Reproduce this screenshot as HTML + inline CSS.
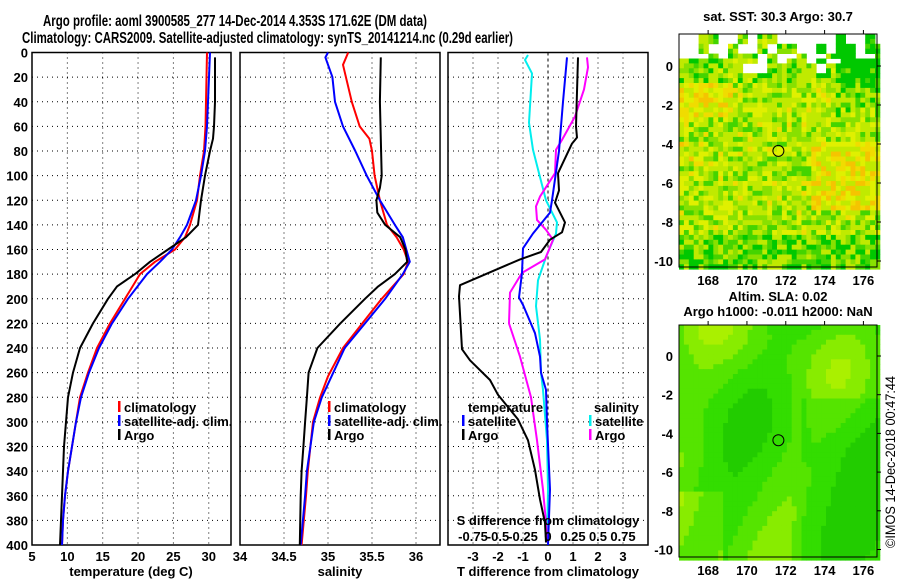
<!DOCTYPE html>
<html><head><meta charset="utf-8"><style>
html,body{margin:0;padding:0;background:#fff;}
svg{display:block;font-family:"Liberation Sans",sans-serif;font-weight:bold;}
</style></head><body>
<svg id="c" width="900" height="580" viewBox="0 0 900 580" xmlns="http://www.w3.org/2000/svg">
<rect width="900" height="580" fill="#fff"/>
<text x="43" y="26" font-size="16" textLength="384" lengthAdjust="spacingAndGlyphs">Argo profile: aoml 3900585_277 14-Dec-2014 4.353S 171.62E (DM data)</text>
<text x="22" y="43" font-size="16" textLength="491" lengthAdjust="spacingAndGlyphs">Climatology: CARS2009. Satellite-adjusted climatology: synTS_20141214.nc (0.29d earlier)</text>
<g id="plots"></g>
<text x="778" y="21" font-size="13" text-anchor="middle">sat. SST: 30.3 Argo: 30.7</text>
<text x="778" y="301" font-size="13" text-anchor="middle">Altim. SLA: 0.02</text>
<text x="778" y="316" font-size="13" text-anchor="middle">Argo h1000: -0.011 h2000: NaN</text>
<text transform="translate(895,462) rotate(-90)" font-size="14" text-anchor="middle" textLength="172" lengthAdjust="spacingAndGlyphs" style="font-weight:normal">©IMOS 14-Dec-2018 00:47:44</text>
</svg>
<script>
// ---- data ----
const depthTicks=[0,20,40,60,80,100,120,140,160,180,200,220,240,260,280,300,320,340,360,380,400];
const tempTicks=[5,10,15,20,25,30];
const salTicks=[34,34.5,35,35.5,36];
const tdiffTicks=[-3,-2,-1,0,1,2,3];
const sdiffTickLabels=["-0.75","-0.5","-0.25","0","0.25","0.5","0.75"];
const sdiffTicks=[-0.75,-0.5,-0.25,0,0.25,0.5,0.75];
const climDepth=[0,20,40,60,80,100,120,140,150,160,170,180,200,220,240,260,280,300,320,340,360,380,400];
const climTemp=[29.75,29.68,29.61,29.54,29.33,28.76,28.34,27.35,26.64,25.23,22.40,20.28,18.15,16.03,14.19,12.92,11.79,11.22,10.66,10.09,9.67,9.38,9.24];
const satTemp=[30.18,30.04,29.90,29.75,29.47,28.90,28.20,26.92,25.93,24.80,23.10,21.27,18.58,16.32,14.48,13.06,11.93,11.22,10.66,10.09,9.67,9.38,9.24];
const argoDepthT=[4,20,40,60,70,80,100,120,140,150,160,170,180,190,200,220,240,260,280,300,320,340,360,380,400];
const argoTemp=[30.88,30.88,30.88,30.74,30.60,30.18,29.47,28.90,28.48,26.78,24.24,21.69,19.57,17.02,15.75,13.63,11.79,10.80,10.09,9.81,9.53,9.38,9.24,9.10,8.96];
const climSDepth=[0,10,40,60,70,80,100,120,140,150,160,170,180,200,220,240,263,280,300,320,340,360,400];
const climSal=[35.23,35.17,35.27,35.36,35.47,35.5,35.53,35.59,35.67,35.78,35.86,35.91,35.86,35.61,35.39,35.17,35.0,34.91,34.83,34.80,34.77,34.75,34.70];
const satSDepth=[0,4,20,40,60,80,100,120,140,150,170,180,200,220,240,260,280,300,320,340,360,400];
const satSal=[35.0,34.97,35.05,35.08,35.17,35.31,35.44,35.59,35.76,35.85,35.93,35.85,35.65,35.42,35.19,35.06,34.93,34.84,34.80,34.76,34.74,34.69];
const argoSDepth=[4,40,100,110,120,130,140,150,160,170,180,190,200,220,240,260,280,300,320,340,360,400];
const argoSal=[35.60,35.59,35.61,35.59,35.55,35.56,35.65,35.82,35.88,35.90,35.76,35.57,35.42,35.14,34.88,34.78,34.76,34.74,34.72,34.70,34.69,34.68];
const satTdDepth=[4,40,80,120,130,147,159,179,199,205,228,247,260,274,300,355,400];
const satTdiff=[0.76,0.6,0.44,0.16,0.08,-0.6,-1.0,-1.04,-1.16,-1.0,-0.52,-0.32,-0.28,-0.08,-0.04,0.08,0];
const argoTdDepth=[4,60,69,74,98,112,122,130,138,146,152,162,168,189,198,241,250,266,278,298,315,339,363,382,398];
const argoTdiff=[1.2,1.12,1.16,0.96,0.4,0.44,0.28,0.48,0.68,0.56,0.08,-0.28,-1.12,-3.52,-3.56,-3.44,-3.12,-2.32,-2.0,-1.2,-0.8,-0.52,-0.32,-0.12,-0.08];
const satSdDepth=[2,6,17,57,79,98,120,138,147,166,185,206,233,260,274,315,355,398];
const satSdiff=[-0.2,-0.23,-0.16,-0.19,-0.15,-0.09,-0.02,0.09,0.08,-0.02,-0.1,-0.12,-0.08,-0.07,-0.05,-0.01,0,-0.01];
const argoSdDepth=[4,12,30,52,71,79,98,117,125,136,144,152,168,179,195,220,247,280,315,355,382,398];
const argoSdiff=[0.39,0.4,0.36,0.27,0.14,0.08,0.07,-0.08,-0.12,-0.11,-0.02,0.05,-0.03,-0.26,-0.38,-0.39,-0.28,-0.17,-0.11,-0.05,-0.02,-0.01];
const mapLonTicks=[168,170,172,174,176];
const mapLatTicks=[0,-2,-4,-6,-8,-10];
const argoLon=171.62, argoLat=-4.353;

// ---- helpers ----
const NS="http://www.w3.org/2000/svg";
const root=document.getElementById('plots');
function mk(tag,attrs,parent){const e=document.createElementNS(NS,tag);for(const k in attrs)e.setAttribute(k,attrs[k]);(parent||root).appendChild(e);return e;}
const Y0=52.5,Y1=545;
const yD=d=>Y0+d*(Y1-Y0)/400;
const xT=t=>32+(t-5)*7.07;
const xS=s=>240+(s-34)*88;
const xTd=t=>548+t*25;
const xSd=s=>548+s*100;
const FS=13;

function gridAndFrame(x0,x1,vx,name){
  const g=mk('g',{});
  
  
  depthTicks.forEach(d=>{if(d>0&&d<400){mk('line',{x1:x0,x2:x1,y1:yD(d),y2:yD(d),stroke:'#000','stroke-width':1,'stroke-dasharray':'1 4'},g);}});
  vx.forEach(x=>{mk('line',{x1:x,x2:x,y1:Y0,y2:Y1,stroke:'#000','stroke-width':1,'stroke-dasharray':'1 4'},g);});
  const f=mk('rect',{x:x0,y:Y0,width:x1-x0,height:Y1-Y0,fill:'none',stroke:'#000','stroke-width':1.5});
  
  
}
function line(xs,ds,fx,color,name){
  const p=xs.map((v,i)=>fx(v).toFixed(1)+','+yD(ds[i]).toFixed(1)).join(' ');
  const e=mk('polyline',{points:p,fill:'none',stroke:color,'stroke-width':2,'stroke-linejoin':'round'});
  
  
}
function txt(x,y,s,opts,name){
  const e=mk('text',Object.assign({x:x,y:y,'font-size':FS},opts||{}));
  e.textContent=s;
  
  
  return e;
}
function legend(x,y,items,name){
  items.forEach((it,i)=>{
    const r=mk('rect',{x:x,y:y+i*14-11,width:2.5,height:11,fill:it[1]});
    
    
    txt(x+6,y+i*14,it[0],{},name+'-entry');
  });
}

// ---- panel 1 temperature ----
gridAndFrame(32,231,tempTicks.filter(t=>t>5).map(xT),'temperature-panel');
depthTicks.forEach(d=>txt(28,yD(d)+5,String(d),{'text-anchor':'end'},'y-tick-label'));
tempTicks.forEach(t=>txt(xT(t),561,String(t),{'text-anchor':'middle'},'temperature-tick-label'));
txt(131,576,'temperature (deg C)',{'text-anchor':'middle'},'temperature-axis-title');
line(climTemp,climDepth,xT,'#f00','temperature-climatology-line');
line(satTemp,climDepth,xT,'#00f','temperature-satellite-line');
line(argoTemp,argoDepthT,xT,'#000','temperature-argo-line');
legend(118,412,[['climatology','#f00'],['satellite-adj. clim.','#00f'],['Argo','#000']],'temperature-legend');

// ---- panel 2 salinity ----
gridAndFrame(240,440,salTicks.filter(s=>s>34).map(xS),'salinity-panel');
salTicks.forEach(s=>txt(xS(s),561,String(s),{'text-anchor':'middle'},'salinity-tick-label'));
txt(340,576,'salinity',{'text-anchor':'middle'},'salinity-axis-title');
line(climSal,climSDepth,xS,'#f00','salinity-climatology-line');
line(satSal,satSDepth,xS,'#00f','salinity-satellite-line');
line(argoSal,argoSDepth,xS,'#000','salinity-argo-line');
legend(328,412,[['climatology','#f00'],['satellite-adj. clim.','#00f'],['Argo','#000']],'salinity-legend');

// ---- panel 3 differences ----
gridAndFrame(448,648,tdiffTicks.filter(t=>t!==0).map(xTd),'difference-panel');
const z=mk('line',{x1:xTd(0),x2:xTd(0),y1:Y0,y2:Y1,stroke:'#000','stroke-width':1,'stroke-dasharray':'3 3'});


line(satSdiff,satSdDepth,xSd,'#0ee','salinity-satellite-diff-line');
line(argoSdiff,argoSdDepth,xSd,'#f0f','salinity-argo-diff-line');
line(satTdiff,satTdDepth,xTd,'#00f','temperature-satellite-diff-line');
line(argoTdiff,argoTdDepth,xTd,'#000','temperature-argo-diff-line');
tdiffTicks.forEach(t=>txt(xTd(t),561,String(t),{'text-anchor':'middle'},'tdiff-tick-label'));
sdiffTicks.forEach((s,i)=>txt(xSd(s),541,sdiffTickLabels[i],{'text-anchor':'middle'},'sdiff-tick-label'));
txt(548,525,'S difference from climatology',{'text-anchor':'middle'},'sdiff-axis-title');
txt(548,576,'T difference from climatology',{'text-anchor':'middle'},'tdiff-axis-title');
txt(468,412,'temperature',{},'diff-legend-temperature-heading');
legend(462,426,[['satellite','#00f'],['Argo','#000']],'diff-legend-temperature');
txt(594,412,'salinity',{},'diff-legend-salinity-heading');
legend(589,426,[['satellite','#0ee'],['Argo','#f0f']],'diff-legend-salinity');

// ---- maps ----
function hash(i,j,s){let h=(i*374761393+j*668265263+s*982451653)|0;h=(h^(h>>>13))*1274126177|0;return ((h^(h>>>16))>>>0)/4294967296;}
function drawMap(top,bot,kind,name){
  const L=679,R=877,lonL=166.5,lonR=176.7;
  const lat0y = kind==='sst'?66:356, pxDeg = kind==='sst'?19.5:19.35;
  const mx=lon=>L+(lon-lonL)*(R-L)/(lonR-lonL);
  const my=lat=>lat0y-lat*pxDeg;
  const g=mk('g',{});
  
  
  const cs=4.9, nx=Math.ceil((R-L)/cs), ny=Math.ceil((bot-top)/cs);
  for(let j=0;j<ny;j++)for(let i=0;i<nx;i++){
    let col;
    const u=i/nx,v=j/ny;
    if(kind==='sst'){
      if(v<0.1){ if(hash(i>>1,j>>1,3)<0.5) continue; }
      else if(v<0.16 && u>0.3 && u<0.8 && hash(i>>1,j>>1,5)<0.35) continue;
      let base=0.0;
      if(u>0.78&&v<0.4) base-=1.1*(1-v/0.4);
      if(u<0.25&&v>0.2&&v<0.35) base+=0.7;
      if(u>0.65&&v>0.45&&v<0.75) base+=0.6;
      if(u<0.1&&v>0.45&&v<0.55) base+=0.5;
      if(v>0.85) base-=0.5;
      if(v<0.2) base-=0.3;
      const r=hash(i,j,1)*1.5-0.75+base;
      if(r<-0.75)col='#00c800';else if(r<-0.45)col='#44d400';else if(r<-0.15)col='#88e000';else if(r<0.35)col='#c0ea00';else if(r<0.7)col='#e0f000';else if(r<1.05)col='#f0dc00';else col='#f5c400';
    }else{
      const f=Math.sin(u*9+v*4)+0.8*Math.cos(v*8-u*3)+0.5*Math.sin(u*3-v*10)-(u>0.6&&v>0.3?0.6:0)+(u<0.2&&v>0.7?1.2:0);
      if(f<-1)col='#22cc00';else if(f<0)col='#33dd00';else if(f<0.9)col='#55e400';else if(f<1.6)col='#88ec00';else col='#aaf000';
    }
    mk('rect',{x:L+i*cs,y:top+j*cs,width:cs+0.4,height:cs+0.4,fill:col},g);
  }
  const f=mk('rect',{x:L,y:top,width:R-L,height:bot-top,fill:'none',stroke:'#000','stroke-width':1});
  
  
  const c=mk('circle',{cx:mx(argoLon),cy:my(argoLat),r:5.5,fill:'none',stroke:'#000','stroke-width':1});
  
  
  mapLatTicks.forEach(l=>{txt(673,my(l)+5,String(l),{'text-anchor':'end'},name+'-lat-label');
    mk('line',{x1:R,x2:R+4,y1:my(l),y2:my(l),stroke:'#000'},g);});
  mapLonTicks.forEach(l=>{txt(mx(l),bot+18,String(l),{'text-anchor':'middle'},name+'-lon-label');
    mk('line',{x1:mx(l),x2:mx(l),y1:top,y2:top-4,stroke:'#000'},g);});
}
drawMap(34,267,'sst','sst-map');
drawMap(325,557,'sla','sla-map');
</script>
</body></html>
